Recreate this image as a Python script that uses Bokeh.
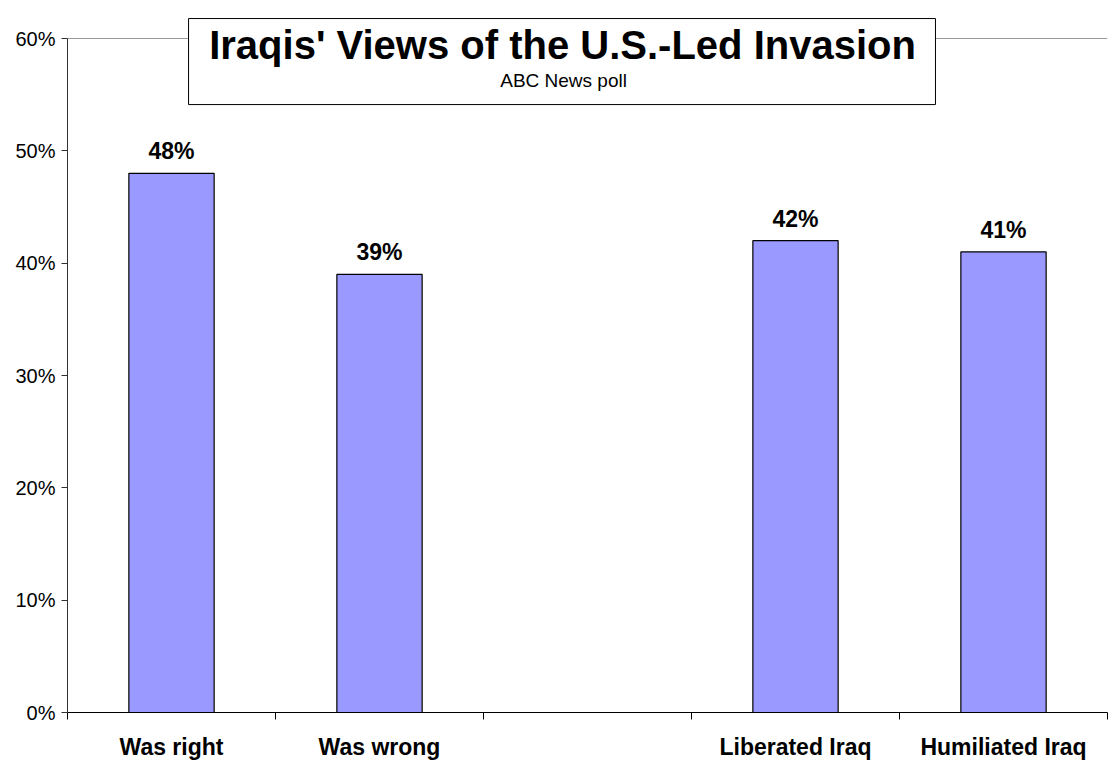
from bokeh.plotting import figure
from bokeh.models import (ColumnDataSource, FixedTicker, PrintfTickFormatter,
                          Label, Range1d, BoxAnnotation)
from bokeh.core.properties import value
from bokeh.embed import file_html
from bokeh.resources import INLINE

categories = ["Was right", "Was wrong", "", "Liberated Iraq", "Humiliated Iraq"]
values = [48, 39, None, 42, 41]
y_ticks = [0, 10, 20, 30, 40, 50, 60]
title_text = "Iraqis' Views of the U.S.-Led Invasion"
subtitle_text = "ABC News poll"

FONT = "Liberation Sans"

xs, tops, labels = [], [], []
for i, (c, v) in enumerate(zip(categories, values)):
    if v is not None:
        xs.append(i + 0.5)
        tops.append(v)
        labels.append(f"{v}%")
src = ColumnDataSource(dict(x=xs, top=tops, label=labels))

# frame extends a little above 60% so the title box is not clipped
p = figure(width=1109, height=762, output_backend="svg", toolbar_location=None,
           x_range=Range1d(0, len(categories)), y_range=Range1d(0, 62.05),
           min_border_left=67, min_border_top=15, min_border_bottom=47,
           min_border_right=2)
p.outline_line_color = None
p.background_fill_color = "white"

p.vbar(x="x", top="top", width=0.41, source=src, fill_color="#9999FF",
       line_color="black", line_width=1.2)
p.text(x="x", y="top", text="label", source=src, text_align="center",
       text_baseline="bottom", y_offset=-9, text_font=value(FONT),
       text_font_style="bold", text_font_size="23px", text_color="black")

# x axis: ticks at category boundaries, labels at centres
xa = p.xaxis[0]
xa.ticker = FixedTicker(ticks=[i + 0.5 for i in range(len(categories))],
                        minor_ticks=list(range(len(categories) + 1)))
xa.major_label_overrides = {i + 0.5: c for i, c in enumerate(categories)}
xa.major_tick_line_color = None
xa.major_tick_out = 0
xa.major_tick_in = 0
xa.minor_tick_out = 7
xa.minor_tick_in = 0
xa.minor_tick_line_color = "black"
xa.axis_line_color = "black"
xa.major_label_standoff = 14
xa.major_label_text_font = FONT
xa.major_label_text_font_style = "bold"
xa.major_label_text_font_size = "23px"
xa.major_label_text_color = "black"

ya = p.yaxis[0]
ya.bounds = (0, 60)
ya.ticker = FixedTicker(ticks=y_ticks)
ya.formatter = PrintfTickFormatter(format="%d%%")
ya.major_tick_out = 6
ya.major_tick_in = 0
ya.minor_tick_line_color = None
ya.axis_line_color = "#333333"
ya.major_tick_line_color = "#333333"
ya.major_label_standoff = 6
ya.major_label_text_font = FONT
ya.major_label_text_font_size = "20px"
ya.major_label_text_color = "black"

p.xgrid.grid_line_color = None
p.ygrid.ticker = FixedTicker(ticks=[60])
p.ygrid.grid_line_color = "#999999"

# title box
p.add_layout(BoxAnnotation(left=0.582, right=4.173, bottom=54.12, top=61.78,
                           fill_color="white", fill_alpha=1.0,
                           line_color="black", line_width=1, line_alpha=1.0,
                           level="overlay"))
p.add_layout(Label(x=2.38, y=59.45, text=title_text, text_align="center",
                   text_baseline="alphabetic", text_font=FONT,
                   text_font_style="bold", text_font_size="40px",
                   text_color="black", level="overlay"))
p.add_layout(Label(x=2.385, y=56.25, text=subtitle_text, text_align="center",
                   text_baseline="alphabetic", text_font=FONT,
                   text_font_size="19px", text_color="black", level="overlay"))

open("out.html", "w").write(file_html(p, INLINE))
